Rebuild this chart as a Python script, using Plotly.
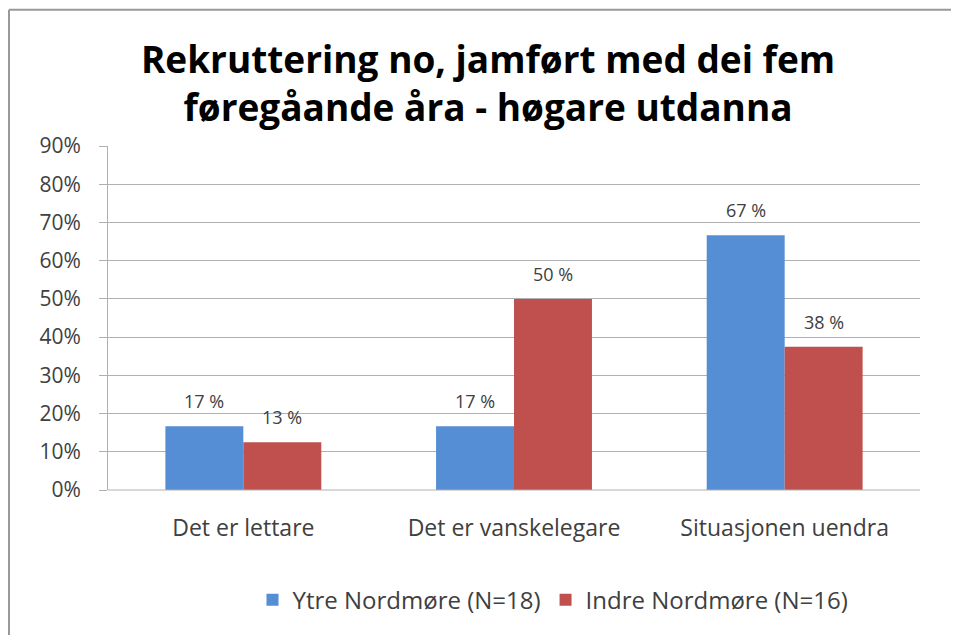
import plotly.graph_objects as go

categories = ["Det er lettare", "Det er vanskelegare", "Situasjonen uendra"]
ytre_values = [16.67, 16.67, 66.67]
indre_values = [12.5, 50.0, 37.5]
ytre_labels = ["17 %", "17 %", "67 %"]
indre_labels = ["13 %", "50 %", "38 %"]
series_names = ["Ytre Nordmøre (N=18)", "Indre Nordmøre (N=16)"]
y_ticks = [0, 10, 20, 30, 40, 50, 60, 70, 80, 90]
y_tick_labels = ["0%", "10%", "20%", "30%", "40%", "50%", "60%", "70%", "80%", "90%"]

FONT = "Open Sans"
TXT = "#404040"
OFF = 8  # default body margin of the html page
W, H = 959 - 2 * OFF, 643 - 2 * OFF
ML, MT = 108 - OFF, 146 - OFF
PW = 920 - 108
PH = 493 - 146
MR = W - ML - PW
MB = H - MT - PH
BARGAP = 0.424
bar_px = PW / len(categories) * (1 - BARGAP) / 2

fig = go.Figure()
fig.add_trace(go.Bar(
    x=categories, y=ytre_values, name=series_names[0],
    marker=dict(color="#558ED5", line=dict(width=0)),
))
fig.add_trace(go.Bar(
    x=categories, y=indre_values, name=series_names[1],
    marker=dict(color="#C0504D", line=dict(width=0)),
))

annotations = []
for cat, v, lab in zip(categories, ytre_values, ytre_labels):
    annotations.append(dict(x=cat, y=v, text=lab, showarrow=False, xref="x", yref="y",
                            xshift=-bar_px / 2, yshift=11, yanchor="bottom",
                            font=dict(family=FONT, size=18, color=TXT)))
for cat, v, lab in zip(categories, indre_values, indre_labels):
    annotations.append(dict(x=cat, y=v, text=lab, showarrow=False, xref="x", yref="y",
                            xshift=bar_px / 2, yshift=11, yanchor="bottom",
                            font=dict(family=FONT, size=18, color=TXT)))

top_y = (493 - 8.5) / PH
left_x = (9 - 108) / PW

fig.update_layout(
    width=W, height=H,
    margin=dict(l=ML, r=MR, t=MT, b=MB, pad=0),
    paper_bgcolor="white", plot_bgcolor="white",
    barmode="group", bargap=BARGAP, bargroupgap=0,
    title=dict(
        text="Rekruttering no, jamført med dei fem<br>føregåande åra - høgare utdanna",
        x=(488 - OFF) / W, xanchor="center", y=1 - (73 - OFF) / H, yanchor="middle",
        font=dict(family=FONT, size=37, color="black", weight="bold"),
    ),
    font=dict(family=FONT, color=TXT),
    showlegend=True,
    legend=dict(
        orientation="h", x=(553 - 108) / PW, xanchor="center", y=(493 - 604) / PH, yanchor="middle",
        font=dict(family=FONT, size=24, color=TXT),
        itemwidth=30, traceorder="normal",
    ),
    xaxis=dict(
        showgrid=False, showline=False, ticks="",
        ticklabelstandoff=22,
        tickfont=dict(family=FONT, size=23, color=TXT),
    ),
    yaxis=dict(
        range=[0, 90], tickvals=y_ticks, ticktext=y_tick_labels,
        showgrid=True, gridcolor="#B0B0B0", gridwidth=1,
        showline=True, linecolor="#B0B0B0", linewidth=1,
        ticks="outside", ticklen=8, tickcolor="#B0B0B0",
        ticklabelstandoff=14,
        tickfont=dict(family=FONT, size=21, color=TXT),
        zeroline=False,
    ),
    annotations=annotations,
    shapes=[
        dict(type="line", xref="paper", yref="paper", x0=left_x, x1=1.2, y0=top_y, y1=top_y,
             line=dict(color="#999999", width=2)),
        dict(type="line", xref="paper", yref="paper", x0=left_x, x1=left_x, y0=-0.6, y1=top_y,
             line=dict(color="#999999", width=2)),
        dict(type="line", xref="paper", yref="paper", x0=0, x1=1, y0=0, y1=0,
             line=dict(color="#B0B0B0", width=1)),
    ],
)

fig.write_html("out.html")
